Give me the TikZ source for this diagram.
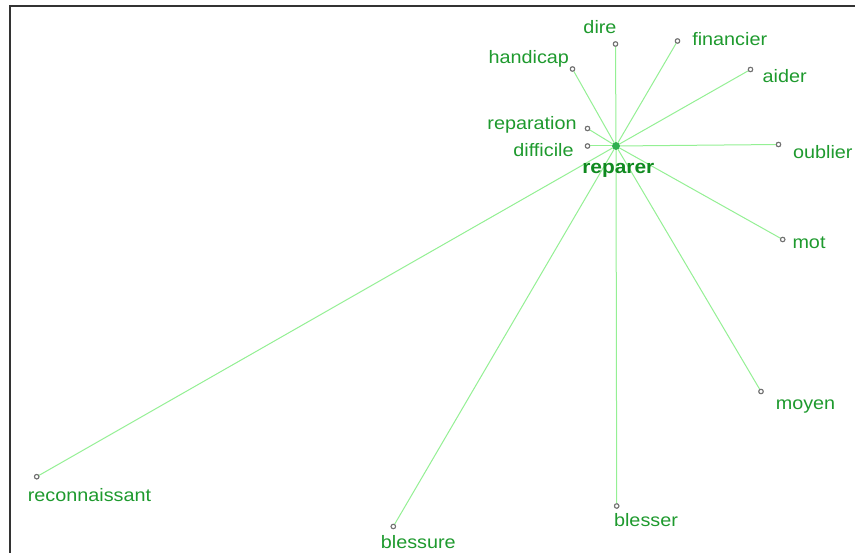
\documentclass[tikz,border=0pt]{standalone}
\usepackage{fontspec}
\newfontfamily\labfont[FakeStretch=1.1]{Liberation Sans}
\definecolor{edgecol}{HTML}{94F094}
\definecolor{labcol}{HTML}{1E9A2E}
\definecolor{boldcol}{HTML}{0F8A1F}
\definecolor{hubcol}{HTML}{30B050}
\definecolor{dotcol}{HTML}{707070}
\definecolor{framecol}{HTML}{333333}
\begin{document}
\begin{tikzpicture}[x=1pt,y=-1pt,
  leaf/.style={circle,draw=dotcol,fill=white,line width=1pt,inner sep=0pt,minimum size=4.4pt},
  hub/.style={circle,draw=hubcol,fill=hubcol,inner sep=0pt,minimum size=7pt},
  lab/.style={anchor=base,inner sep=0pt,text=labcol,font=\labfont\fontsize{18}{18}\selectfont},
  hublab/.style={anchor=base,inner sep=0pt,text=boldcol,font=\labfont\fontsize{19}{19}\selectfont\bfseries},
  edge/.style={draw=edgecol,line width=1pt}]
\useasboundingbox (0,0) rectangle (855,553);
\fill[white] (0,0) rectangle (855,553);
\draw[framecol,line width=2pt] (9.5,553) -- (9.5,6.5) -- (855,6.5);
% nodes
\node[hub] (c) at (616,146) {};
\node[leaf] (dire) at (615.5,44) {};
\node[leaf] (financier) at (677.5,41) {};
\node[leaf] (handicap) at (572.5,69) {};
\node[leaf] (aider) at (750.5,69.5) {};
\node[leaf] (reparation) at (587.5,128.5) {};
\node[leaf] (difficile) at (587.5,146) {};
\node[leaf] (oublier) at (778.5,144.5) {};
\node[leaf] (mot) at (782.7,239.5) {};
\node[leaf] (moyen) at (761,391.5) {};
\node[leaf] (blesser) at (616.7,506) {};
\node[leaf] (blessure) at (393.3,526.5) {};
\node[leaf] (reconnaissant) at (36.7,476.7) {};
% edges
\foreach \n in {dire,financier,handicap,aider,reparation,difficile,oublier,mot,moyen,blesser,blessure,reconnaissant}
  \path[edge] (c) -- (\n);
% redraw dots on top
\node[hub] at (c) {};
\foreach \n in {dire,financier,handicap,aider,reparation,difficile,oublier,mot,moyen,blesser,blessure,reconnaissant}
  \node[leaf] at (\n) {};
% labels
\node[hublab] (l-c) at (618.3,174) {reparer};
\node[lab] (l-dire) at (600,33.3) {dire};
\node[lab] (l-financier) at (729.7,45.7) {financier};
\node[lab] (l-handicap) at (528.8,64) {handicap};
\node[lab] (l-aider) at (784.7,82.7) {aider};
\node[lab] (l-reparation) at (532,129.3) {reparation};
\node[lab] (l-difficile) at (543.5,156.7) {difficile};
\node[lab] (l-oublier) at (822.8,159) {oublier};
\node[lab] (l-mot) at (809,248.3) {mot};
\node[lab] (l-moyen) at (805.5,409.3) {moyen};
\node[lab] (l-blesser) at (646,526) {blesser};
\node[lab] (l-blessure) at (418.3,548.3) {blessure};
\node[lab] (l-reconnaissant) at (89.5,501.7) {reconnaissant};
\end{tikzpicture}
\end{document}
